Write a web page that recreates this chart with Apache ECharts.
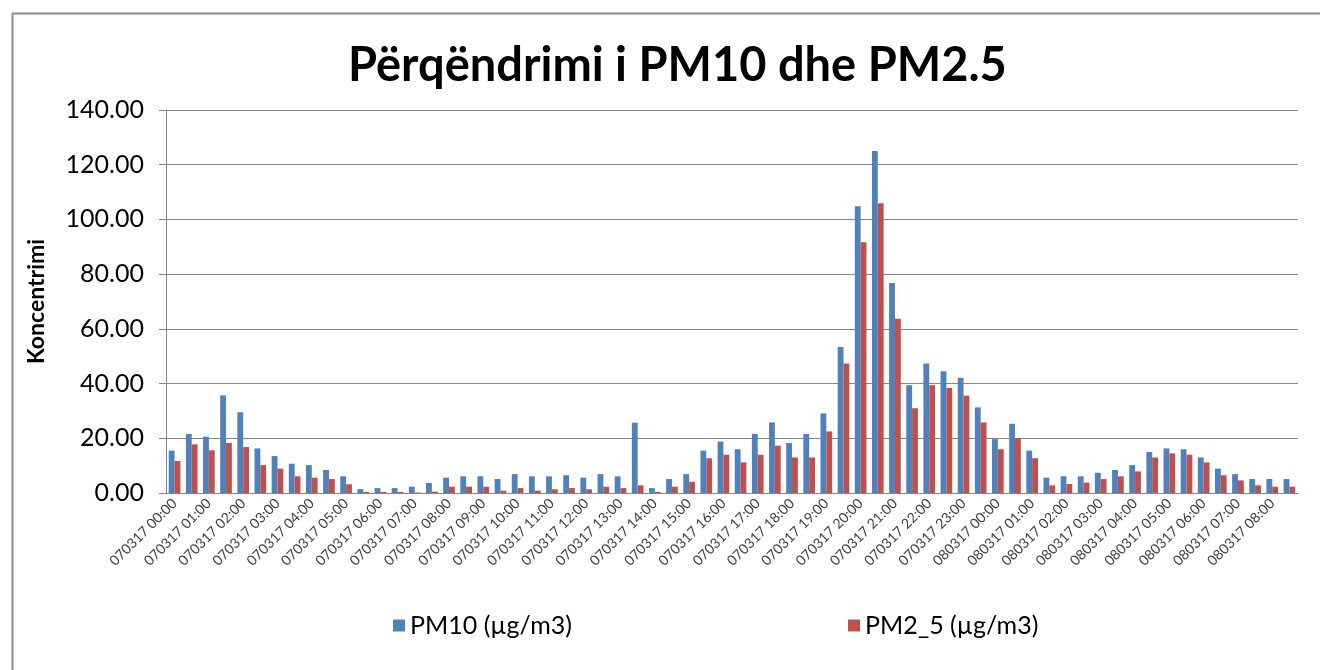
<!DOCTYPE html>
<html>
<head>
<meta charset="utf-8">
<script src="https://cdn.jsdelivr.net/npm/echarts@6/dist/echarts.min.js"></script>
<style>
html,body{margin:0;padding:0;background:#fff;}
#chart{width:1320px;height:670px;}
</style>
</head>
<body>
<div id="chart"></div>
<script>
const categories = [
"070317 00:00","070317 00:30","070317 01:00","070317 01:30","070317 02:00","070317 02:30",
"070317 03:00","070317 03:30","070317 04:00","070317 04:30","070317 05:00","070317 05:30",
"070317 06:00","070317 06:30","070317 07:00","070317 07:30","070317 08:00","070317 08:30",
"070317 09:00","070317 09:30","070317 10:00","070317 10:30","070317 11:00","070317 11:30",
"070317 12:00","070317 12:30","070317 13:00","070317 13:30","070317 14:00","070317 14:30",
"070317 15:00","070317 15:30","070317 16:00","070317 16:30","070317 17:00","070317 17:30",
"070317 18:00","070317 18:30","070317 19:00","070317 19:30","070317 20:00","070317 20:30",
"070317 21:00","070317 21:30","070317 22:00","070317 22:30","070317 23:00","070317 23:30",
"080317 00:00","080317 00:30","080317 01:00","080317 01:30","080317 02:00","080317 02:30",
"080317 03:00","080317 03:30","080317 04:00","080317 04:30","080317 05:00","080317 05:30",
"080317 06:00","080317 06:30","080317 07:00","080317 07:30","080317 08:00","080317 08:30"
];
const pm10 = [
15.5,21.6,20.6,35.7,29.5,16.3,13.5,10.7,10.2,8.4,
6.1,1.4,1.8,1.8,2.3,3.7,5.6,6.1,6.1,5.1,
6.9,6.1,6.1,6.5,5.6,6.9,6.1,25.7,1.8,5.1,
6.9,15.5,18.8,16.0,21.6,25.8,18.3,21.6,29.1,53.4,
104.8,125.0,76.8,39.4,47.3,44.5,42.1,31.3,19.7,25.3,
15.5,5.6,6.1,6.1,7.4,8.4,10.2,15.0,16.3,16.0,
13.0,8.9,6.9,5.1,5.1,5.1
];
const pm25 = [
11.7,17.8,15.6,18.3,16.8,10.2,8.9,6.1,5.6,5.1,
3.2,0.4,0.4,0.4,0.2,0.5,2.3,2.3,2.3,0.85,
1.8,0.85,1.35,1.8,1.35,2.3,1.8,2.8,0.4,2.3,
4.1,12.7,14.0,11.2,14.0,17.3,13.0,13.0,22.5,47.3,
91.7,105.9,63.7,31.0,39.4,38.4,35.6,25.8,16.0,20.1,
12.7,2.8,3.3,3.8,5.1,6.1,7.9,13.0,14.5,14.0,
11.2,6.5,4.6,2.8,2.3,2.3
];
const seriesNames = ["PM10 (µg/m3)", "PM2_5 (µg/m3)"];
const titleText = "Përqëndrimi i PM10 dhe PM2.5";
const yAxisTitle = "Koncentrimi";

const FONT = "Lato, 'Open Sans', sans-serif";
const chart = echarts.init(document.getElementById('chart'), null, {renderer: 'canvas'});
chart.setOption({
  animation: false,
  backgroundColor: '#ffffff',
  graphic: [{
    type: 'rect', left: 10, top: 11, z: -1,
    shape: {width: 1330, height: 680},
    style: {fill: 'none', stroke: '#8c8c8c', lineWidth: 2}
  }],
  title: {
    text: titleText, left: 343, top: 37,
    textStyle: {fontFamily: FONT, fontSize: 47, fontWeight: 'bold', color: '#000'}
  },
  legend: [{
    data: [seriesNames[0]], left: 388, top: 608, itemWidth: 12, itemHeight: 12, itemGap: 8,
    icon: 'rect',
    textStyle: {fontFamily: FONT, fontSize: 25, color: '#000'}
  }, {
    data: [seriesNames[1]], left: 843, top: 608, itemWidth: 12, itemHeight: 12,
    icon: 'rect',
    textStyle: {fontFamily: FONT, fontSize: 25, color: '#000'}
  }],
  grid: {left: 166, right: 22, top: 110, bottom: 177, containLabel: false},
  xAxis: {
    type: 'category', data: categories,
    axisLine: {show: true, lineStyle: {color: '#868686', width: 1}},
    axisTick: {show: false},
    axisLabel: {interval: 1, rotate: 45, fontFamily: FONT, fontSize: 14, color: '#404040', margin: 8}
  },
  yAxis: {
    type: 'value', min: 0, max: 140, interval: 20,
    name: yAxisTitle, nameLocation: 'middle', nameGap: 118, nameRotate: 90,
    nameTextStyle: {fontFamily: FONT, fontSize: 23, fontWeight: 'bold', color: '#000'},
    axisLine: {show: true, lineStyle: {color: '#868686', width: 1}},
    axisTick: {show: true, inside: false, length: 7, lineStyle: {color: '#868686'}},
    axisLabel: {fontFamily: FONT, fontSize: 25, color: '#000', margin: 22,
      formatter: v => v.toFixed(2)},
    splitLine: {show: true, lineStyle: {color: '#868686', width: 1}}
  },
  series: [{
    name: seriesNames[0], type: 'bar', data: pm10,
    itemStyle: {color: '#4F81BD'},
    barGap: '0%', barCategoryGap: '32%'
  }, {
    name: seriesNames[1], type: 'bar', data: pm25,
    itemStyle: {color: '#C0504D'},
    barGap: '0%', barCategoryGap: '32%'
  }]
});
</script>
</body>
</html>
